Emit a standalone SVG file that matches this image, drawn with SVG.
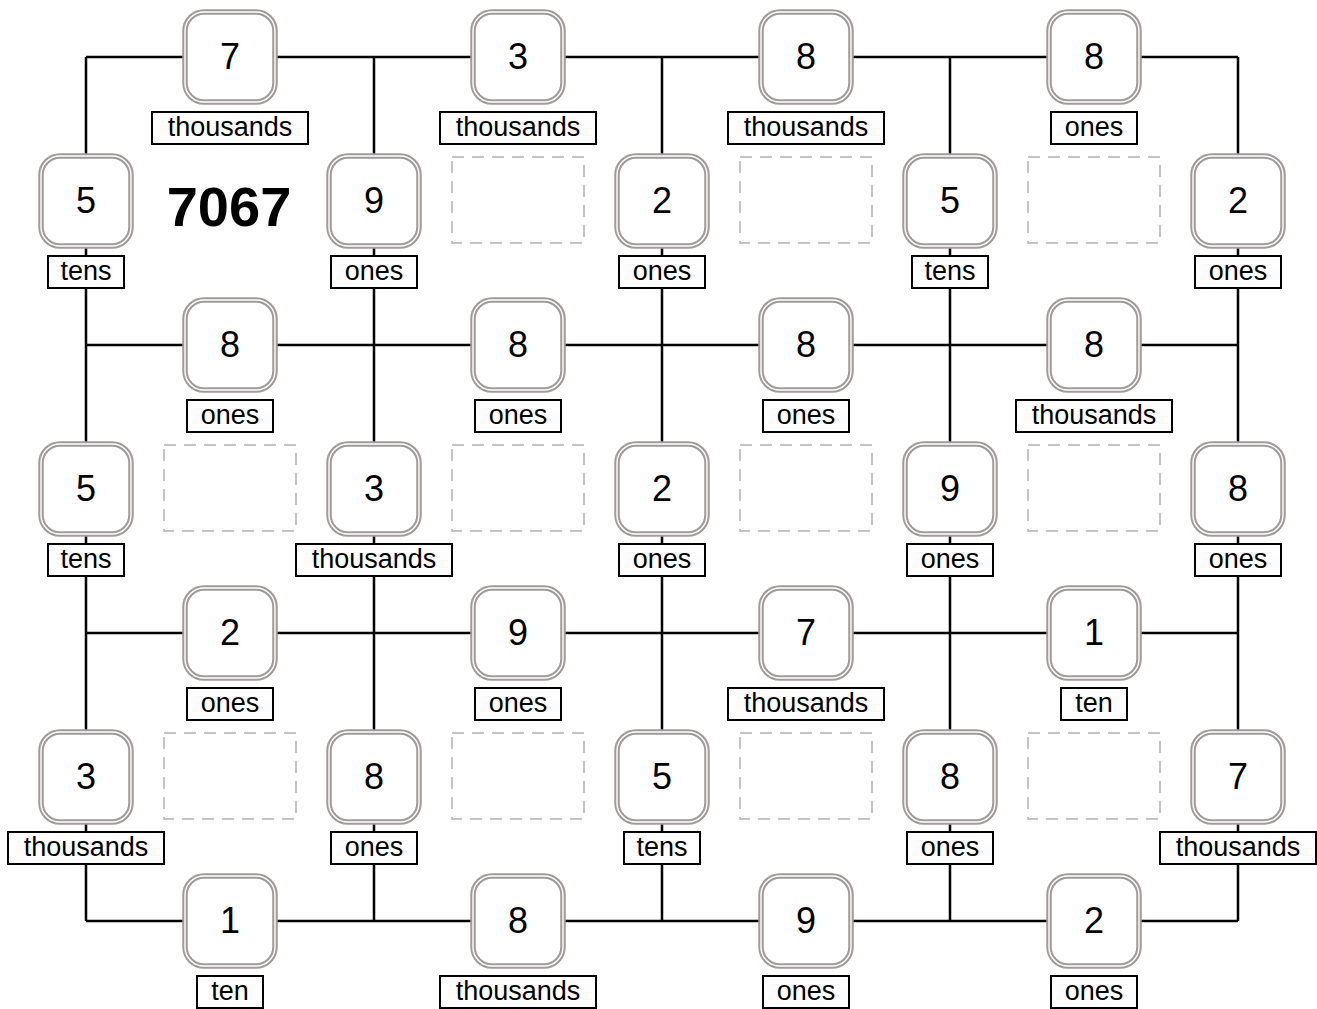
<svg xmlns="http://www.w3.org/2000/svg" width="1317" height="1009" viewBox="0 0 1317 1009">
<style>
.bg{fill:#ffffff}
.ln{stroke:#000;stroke-width:2.5;fill:none}
.nb{fill:#fff;stroke:#a39999;stroke-width:5.5}
.ni{fill:none;stroke:#fff;stroke-width:1.4}
.nt{font-family:"Liberation Sans",Arial,sans-serif;font-size:36px;text-anchor:middle;fill:#000}
.lb{fill:#fff;stroke:#000;stroke-width:2}
.lt{font-family:"Liberation Sans",Arial,sans-serif;font-size:27px;text-anchor:middle;fill:#000}
.db{fill:none;stroke:#c4c4c4;stroke-width:2;stroke-dasharray:12 8}
.big{font-family:"Liberation Sans",Arial,sans-serif;font-size:56px;font-weight:bold;text-anchor:middle;fill:#000}
</style>
<defs>
<g id="box"><rect class="nb" x="-45" y="-45" width="90" height="90" rx="19"/><rect class="ni" x="-45" y="-45" width="90" height="90" rx="19"/></g>
<rect id="L-thousands" class="lb" x="-78" y="55" width="156" height="32"/>
<rect id="L-ones" class="lb" x="-43" y="55" width="86" height="32"/>
<rect id="L-tens" class="lb" x="-38" y="55" width="76" height="32"/>
<rect id="L-ten" class="lb" x="-33" y="55" width="66" height="32"/>
</defs>
<rect class="bg" x="0" y="0" width="1317" height="1009"/>
<g id="connectors">
<line class="ln" x1="86" y1="57" x2="1238" y2="57"/>
<line class="ln" x1="86" y1="345" x2="1238" y2="345"/>
<line class="ln" x1="86" y1="633" x2="1238" y2="633"/>
<line class="ln" x1="86" y1="921" x2="1238" y2="921"/>
<line class="ln" x1="86" y1="57" x2="86" y2="921"/>
<line class="ln" x1="374" y1="57" x2="374" y2="921"/>
<line class="ln" x1="662" y1="57" x2="662" y2="921"/>
<line class="ln" x1="950" y1="57" x2="950" y2="921"/>
<line class="ln" x1="1238" y1="57" x2="1238" y2="921"/>
</g>
<g id="blanks">
<rect class="db" x="452" y="157" width="132" height="86"/>
<rect class="db" x="740" y="157" width="132" height="86"/>
<rect class="db" x="1028" y="157" width="132" height="86"/>
<rect class="db" x="164" y="445" width="132" height="86"/>
<rect class="db" x="452" y="445" width="132" height="86"/>
<rect class="db" x="740" y="445" width="132" height="86"/>
<rect class="db" x="1028" y="445" width="132" height="86"/>
<rect class="db" x="164" y="733" width="132" height="86"/>
<rect class="db" x="452" y="733" width="132" height="86"/>
<rect class="db" x="740" y="733" width="132" height="86"/>
<rect class="db" x="1028" y="733" width="132" height="86"/>
</g>
<text id="target" class="big" x="229" y="226">7067</text>
<!-- row 1 -->
<g id="n1" transform="translate(230,57)"><use href="#box"/><text class="nt" x="0" y="12">7</text><use href="#L-thousands"/><text class="lt" x="0" y="79">thousands</text></g>
<g id="n2" transform="translate(518,57)"><use href="#box"/><text class="nt" x="0" y="12">3</text><use href="#L-thousands"/><text class="lt" x="0" y="79">thousands</text></g>
<g id="n3" transform="translate(806,57)"><use href="#box"/><text class="nt" x="0" y="12">8</text><use href="#L-thousands"/><text class="lt" x="0" y="79">thousands</text></g>
<g id="n4" transform="translate(1094,57)"><use href="#box"/><text class="nt" x="0" y="12">8</text><use href="#L-ones"/><text class="lt" x="0" y="79">ones</text></g>
<!-- row 2 -->
<g id="n5" transform="translate(86,201)"><use href="#box"/><text class="nt" x="0" y="12">5</text><use href="#L-tens"/><text class="lt" x="0" y="79">tens</text></g>
<g id="n6" transform="translate(374,201)"><use href="#box"/><text class="nt" x="0" y="12">9</text><use href="#L-ones"/><text class="lt" x="0" y="79">ones</text></g>
<g id="n7" transform="translate(662,201)"><use href="#box"/><text class="nt" x="0" y="12">2</text><use href="#L-ones"/><text class="lt" x="0" y="79">ones</text></g>
<g id="n8" transform="translate(950,201)"><use href="#box"/><text class="nt" x="0" y="12">5</text><use href="#L-tens"/><text class="lt" x="0" y="79">tens</text></g>
<g id="n9" transform="translate(1238,201)"><use href="#box"/><text class="nt" x="0" y="12">2</text><use href="#L-ones"/><text class="lt" x="0" y="79">ones</text></g>
<!-- row 3 -->
<g id="n10" transform="translate(230,345)"><use href="#box"/><text class="nt" x="0" y="12">8</text><use href="#L-ones"/><text class="lt" x="0" y="79">ones</text></g>
<g id="n11" transform="translate(518,345)"><use href="#box"/><text class="nt" x="0" y="12">8</text><use href="#L-ones"/><text class="lt" x="0" y="79">ones</text></g>
<g id="n12" transform="translate(806,345)"><use href="#box"/><text class="nt" x="0" y="12">8</text><use href="#L-ones"/><text class="lt" x="0" y="79">ones</text></g>
<g id="n13" transform="translate(1094,345)"><use href="#box"/><text class="nt" x="0" y="12">8</text><use href="#L-thousands"/><text class="lt" x="0" y="79">thousands</text></g>
<!-- row 4 -->
<g id="n14" transform="translate(86,489)"><use href="#box"/><text class="nt" x="0" y="12">5</text><use href="#L-tens"/><text class="lt" x="0" y="79">tens</text></g>
<g id="n15" transform="translate(374,489)"><use href="#box"/><text class="nt" x="0" y="12">3</text><use href="#L-thousands"/><text class="lt" x="0" y="79">thousands</text></g>
<g id="n16" transform="translate(662,489)"><use href="#box"/><text class="nt" x="0" y="12">2</text><use href="#L-ones"/><text class="lt" x="0" y="79">ones</text></g>
<g id="n17" transform="translate(950,489)"><use href="#box"/><text class="nt" x="0" y="12">9</text><use href="#L-ones"/><text class="lt" x="0" y="79">ones</text></g>
<g id="n18" transform="translate(1238,489)"><use href="#box"/><text class="nt" x="0" y="12">8</text><use href="#L-ones"/><text class="lt" x="0" y="79">ones</text></g>
<!-- row 5 -->
<g id="n19" transform="translate(230,633)"><use href="#box"/><text class="nt" x="0" y="12">2</text><use href="#L-ones"/><text class="lt" x="0" y="79">ones</text></g>
<g id="n20" transform="translate(518,633)"><use href="#box"/><text class="nt" x="0" y="12">9</text><use href="#L-ones"/><text class="lt" x="0" y="79">ones</text></g>
<g id="n21" transform="translate(806,633)"><use href="#box"/><text class="nt" x="0" y="12">7</text><use href="#L-thousands"/><text class="lt" x="0" y="79">thousands</text></g>
<g id="n22" transform="translate(1094,633)"><use href="#box"/><text class="nt" x="0" y="12">1</text><use href="#L-ten"/><text class="lt" x="0" y="79">ten</text></g>
<!-- row 6 -->
<g id="n23" transform="translate(86,777)"><use href="#box"/><text class="nt" x="0" y="12">3</text><use href="#L-thousands"/><text class="lt" x="0" y="79">thousands</text></g>
<g id="n24" transform="translate(374,777)"><use href="#box"/><text class="nt" x="0" y="12">8</text><use href="#L-ones"/><text class="lt" x="0" y="79">ones</text></g>
<g id="n25" transform="translate(662,777)"><use href="#box"/><text class="nt" x="0" y="12">5</text><use href="#L-tens"/><text class="lt" x="0" y="79">tens</text></g>
<g id="n26" transform="translate(950,777)"><use href="#box"/><text class="nt" x="0" y="12">8</text><use href="#L-ones"/><text class="lt" x="0" y="79">ones</text></g>
<g id="n27" transform="translate(1238,777)"><use href="#box"/><text class="nt" x="0" y="12">7</text><use href="#L-thousands"/><text class="lt" x="0" y="79">thousands</text></g>
<!-- row 7 -->
<g id="n28" transform="translate(230,921)"><use href="#box"/><text class="nt" x="0" y="12">1</text><use href="#L-ten"/><text class="lt" x="0" y="79">ten</text></g>
<g id="n29" transform="translate(518,921)"><use href="#box"/><text class="nt" x="0" y="12">8</text><use href="#L-thousands"/><text class="lt" x="0" y="79">thousands</text></g>
<g id="n30" transform="translate(806,921)"><use href="#box"/><text class="nt" x="0" y="12">9</text><use href="#L-ones"/><text class="lt" x="0" y="79">ones</text></g>
<g id="n31" transform="translate(1094,921)"><use href="#box"/><text class="nt" x="0" y="12">2</text><use href="#L-ones"/><text class="lt" x="0" y="79">ones</text></g>
</svg>
